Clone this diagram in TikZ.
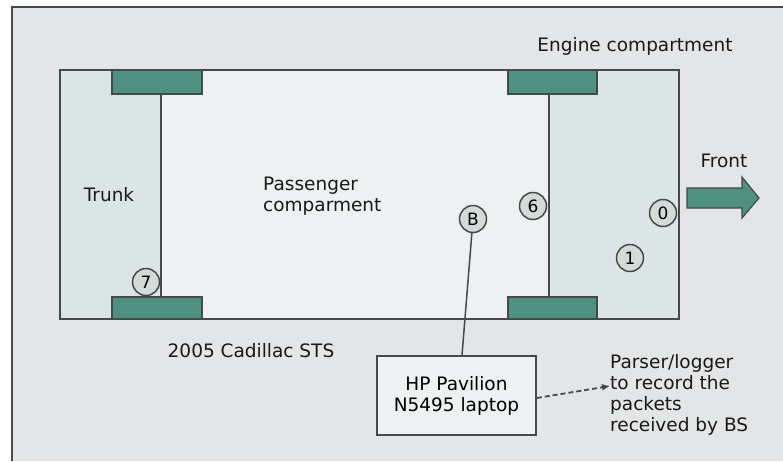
\documentclass[tikz,border=0pt]{standalone}
\usepackage{fontspec}
\setmainfont{DejaVu Sans}
\usetikzlibrary{positioning,calc,arrows.meta}
\definecolor{BGGRAY}{HTML}{E3E5E7}
\definecolor{CABIN}{HTML}{EDF1F2}
\definecolor{ENDS}{HTML}{DCE5E6}
\definecolor{WHEEL}{HTML}{4F9081}
\definecolor{LINE}{HTML}{45494C}
\definecolor{BADGE}{HTML}{D3DBD7}
\tikzset{
    txt/.style={font=\fontsize{18.5}{21}\selectfont, text=black!90, inner sep=0pt},
    wheel/.style={fill=WHEEL, draw=LINE, line width=1.6pt},
    badge/.style={circle, draw=LINE, fill=BADGE, line width=1.5pt, minimum size=27pt,
        inner sep=0pt, font=\fontsize{17}{17}\selectfont},
    box/.style={draw=LINE, fill=CABIN, line width=1.6pt, minimum width=159pt,
        minimum height=79pt, align=center, font=\fontsize{18.5}{21}\selectfont}
}

\begin{document}
\begin{tikzpicture}[x=1pt,y=-1pt]
    \useasboundingbox (0,0) rectangle (783,461);
    % frame
    \fill[BGGRAY] (12,7) rectangle (783,461);
    \draw[LINE, line width=2pt] (12,461) -- (12,7) -- (783,7);

    % car body
    \fill[ENDS] (60,70) rectangle (679,319);
    \fill[CABIN] (161,70) rectangle (549,319);
    \draw[LINE, line width=1.8pt] (60,70) rectangle (679,319);
    \foreach \x in {161,549}{\draw[LINE, line width=1.6pt] (\x,94) -- (\x,297);}
    \foreach \x/\w in {112/202,508/597}{
        \draw[wheel] (\x,70) rectangle (\w,94);
        \draw[wheel] (\x,297) rectangle (\w,319);
    }

    % front arrow
    \draw[fill=WHEEL, draw=LINE, line width=1.2pt]
        (687,188) -- (742,188) -- (742,177) -- (759,198) -- (742,218) -- (742,208) -- (687,208) -- cycle;

    % labels
    \node[txt] (trunk) at (109,195) {Trunk};
    \node[txt, anchor=west, align=left] (cabin) at (263,196) {Passenger\\comparment};
    \node[txt] (engine) at (635,46) {Engine compartment};
    \node[txt] (front) at (724,161) {Front};
    \node[txt] (model) at (251,351) {2005 Cadillac STS};

    % nodes
    \node[badge] (n7) at (146,282) {7};
    \node[badge] (n6) at (533,206) {6};
    \node[badge] (n0) at (663,213) {0};
    \node[badge] (n1) at (630,258) {1};
    \node[badge] (nB) at (473,219) {B};

    \node[box] (laptop) at (456.5,395.5) {HP Pavilion\\N5495 laptop};
    \node[txt, anchor=north west, align=left] (parser) at (610,354)
        {Parser/logger\\to record the\\packets\\received by BS};

    \draw[LINE, line width=1.5pt] (nB) -- (laptop.north -| 462,0);
    \draw[LINE, line width=1.8pt, dash pattern=on 5pt off 3pt,
        -{Latex[length=8pt,width=7pt]}]
        (laptop.east |- 0,398) -- (parser.west |- 0,386);
\end{tikzpicture}
\end{document}
